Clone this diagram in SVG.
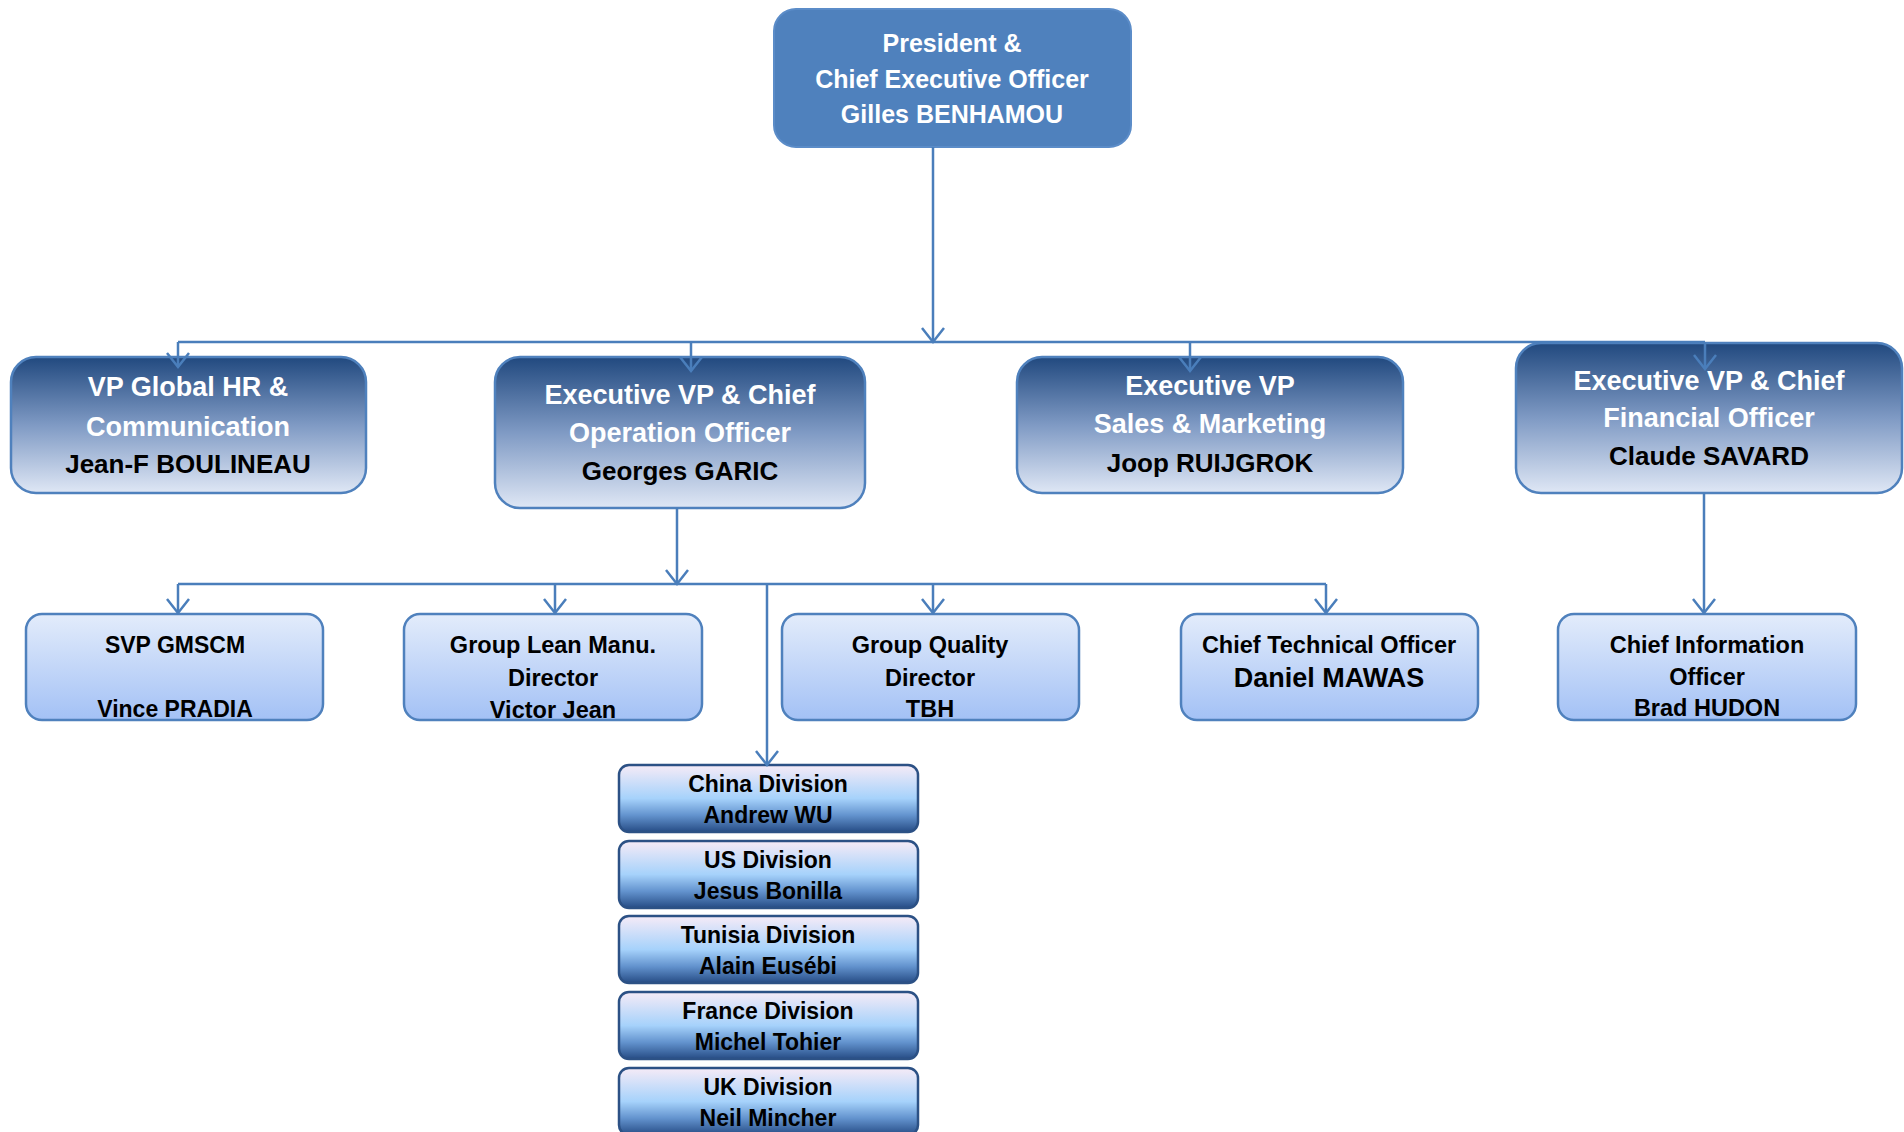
<svg xmlns="http://www.w3.org/2000/svg" width="1904" height="1132" viewBox="0 0 1904 1132">
<defs>
  <linearGradient id="gL1" x1="0" y1="0" x2="0" y2="1">
    <stop offset="0" stop-color="#21497F"/>
    <stop offset="0.5" stop-color="#7F9AC4"/>
    <stop offset="1" stop-color="#DFE7F5"/>
  </linearGradient>
  <linearGradient id="gL2" x1="0" y1="0" x2="0" y2="1">
    <stop offset="0" stop-color="#E3ECFB"/>
    <stop offset="1" stop-color="#A3C1F5"/>
  </linearGradient>
  <linearGradient id="gDiv" x1="0" y1="0" x2="0" y2="1">
    <stop offset="0" stop-color="#F6EBF7"/>
    <stop offset="0.5" stop-color="#A6D2FB"/>
    <stop offset="0.75" stop-color="#6393CE"/>
    <stop offset="1" stop-color="#264C85"/>
  </linearGradient>
  <marker id="arr" markerUnits="userSpaceOnUse" viewBox="0 0 16 24" markerWidth="16" markerHeight="24" refX="14" refY="12" orient="auto" overflow="visible">
    <path d="M0,1 L14,12 L0,23" fill="none" stroke="#4A7EBB" stroke-width="2.5"/>
  </marker>
</defs>
<style>
  text { font-family: "Liberation Sans", Arial, sans-serif; font-weight: bold; text-anchor: middle; }
  .ceo { fill: #4F81BD; stroke: #5B8CC8; stroke-width: 2; }
  .l1 { fill: url(#gL1); stroke: #4F81BD; stroke-width: 2.5; }
  .l2 { fill: url(#gL2); stroke: #4F81BD; stroke-width: 2.5; }
  .dv { fill: url(#gDiv); stroke: #2C5185; stroke-width: 2.5; }
  .w25 { fill: #FFFFFF; font-size: 25px; }
  .w27 { fill: #FFFFFF; font-size: 27px; }
  .b26 { fill: #000000; font-size: 26px; }
  .b23 { fill: #000000; font-size: 23.5px; }
  .bd { fill: #000000; font-size: 23px; }
  .b27 { fill: #000000; font-size: 27px; }
  .con { fill: none; stroke: #4A7EBB; stroke-width: 2.5; }
</style>

<g id="ceo">
  <rect class="ceo" x="774" y="9" width="357" height="138" rx="22"/>
  <text class="w25" x="952" y="52">President &amp;</text>
  <text class="w25" x="952" y="88">Chief Executive Officer</text>
  <text class="w25" x="952" y="123">Gilles BENHAMOU</text>
</g>

<g id="vp-hr">
  <rect class="l1" x="11" y="357" width="355" height="136" rx="25"/>
  <text class="w27" x="188" y="396">VP Global HR &amp;</text>
  <text class="w27" x="188" y="436">Communication</text>
  <text class="b26" x="188" y="473">Jean-F BOULINEAU</text>
</g>

<g id="evp-coo">
  <rect class="l1" x="495" y="357" width="370" height="151" rx="25"/>
  <text class="w27" x="680" y="404">Executive VP &amp; Chief</text>
  <text class="w27" x="680" y="442">Operation Officer</text>
  <text class="b26" x="680" y="480">Georges GARIC</text>
</g>

<g id="evp-sales">
  <rect class="l1" x="1017" y="357" width="386" height="136" rx="25"/>
  <text class="w27" x="1210" y="395">Executive VP</text>
  <text class="w27" x="1210" y="433">Sales &amp; Marketing</text>
  <text class="b26" x="1210" y="472">Joop RUIJGROK</text>
</g>

<g id="evp-cfo">
  <rect class="l1" x="1516" y="343" width="386" height="150" rx="25"/>
  <text class="w27" x="1709" y="390">Executive VP &amp; Chief</text>
  <text class="w27" x="1709" y="427">Financial Officer</text>
  <text class="b26" x="1709" y="465">Claude SAVARD</text>
</g>

<g id="svp-gmscm">
  <rect class="l2" x="26" y="614" width="297" height="106" rx="16"/>
  <text class="bd" x="175" y="653">SVP GMSCM</text>
  <text class="bd" x="175" y="717">Vince PRADIA</text>
</g>

<g id="lean">
  <rect class="l2" x="404" y="614" width="298" height="106" rx="16"/>
  <text class="b23" x="553" y="653">Group Lean Manu.</text>
  <text class="b23" x="553" y="686">Director</text>
  <text class="b23" x="553" y="718">Victor Jean</text>
</g>

<g id="quality">
  <rect class="l2" x="782" y="614" width="297" height="106" rx="16"/>
  <text class="b23" x="930" y="653">Group Quality</text>
  <text class="b23" x="930" y="686">Director</text>
  <text class="b23" x="930" y="717">TBH</text>
</g>

<g id="cto">
  <rect class="l2" x="1181" y="614" width="297" height="106" rx="16"/>
  <text class="b23" x="1329" y="653">Chief Technical Officer</text>
  <text class="b27" x="1329" y="687">Daniel MAWAS</text>
</g>

<g id="cio">
  <rect class="l2" x="1558" y="614" width="298" height="106" rx="16"/>
  <text class="b23" x="1707" y="653">Chief Information</text>
  <text class="b23" x="1707" y="685">Officer</text>
  <text class="b23" x="1707" y="716">Brad HUDON</text>
</g>

<g id="div-china">
  <rect class="dv" x="619" y="765" width="299" height="67" rx="10"/>
  <text class="bd" x="768" y="792">China Division</text>
  <text class="bd" x="768" y="823">Andrew WU</text>
</g>
<g id="div-us">
  <rect class="dv" x="619" y="841" width="299" height="67" rx="10"/>
  <text class="bd" x="768" y="868">US Division</text>
  <text class="bd" x="768" y="899">Jesus Bonilla</text>
</g>
<g id="div-tunisia">
  <rect class="dv" x="619" y="916" width="299" height="67" rx="10"/>
  <text class="bd" x="768" y="943">Tunisia Division</text>
  <text class="bd" x="768" y="974">Alain Eusébi</text>
</g>
<g id="div-france">
  <rect class="dv" x="619" y="992" width="299" height="67" rx="10"/>
  <text class="bd" x="768" y="1019">France Division</text>
  <text class="bd" x="768" y="1050">Michel Tohier</text>
</g>
<g id="div-uk">
  <rect class="dv" x="619" y="1068" width="299" height="67" rx="10"/>
  <text class="bd" x="768" y="1095">UK Division</text>
  <text class="bd" x="768" y="1126">Neil Mincher</text>
</g>

<g id="connectors">
  <path class="con" d="M933,147 V342" marker-end="url(#arr)"/>
  <path class="con" d="M178,342 H1705"/>
  <path class="con" d="M178,342 V367" marker-end="url(#arr)"/>
  <path class="con" d="M691,342 V371" marker-end="url(#arr)"/>
  <path class="con" d="M1190,342 V371" marker-end="url(#arr)"/>
  <path class="con" d="M1705,342 V369" marker-end="url(#arr)"/>
  <path class="con" d="M677,508 V584" marker-end="url(#arr)"/>
  <path class="con" d="M178,584 H1326"/>
  <path class="con" d="M178,584 V613" marker-end="url(#arr)"/>
  <path class="con" d="M555,584 V613" marker-end="url(#arr)"/>
  <path class="con" d="M933,584 V613" marker-end="url(#arr)"/>
  <path class="con" d="M1326,584 V613" marker-end="url(#arr)"/>
  <path class="con" d="M767,584 V765" marker-end="url(#arr)"/>
  <path class="con" d="M1704,493 V613" marker-end="url(#arr)"/>
</g>
</svg>
